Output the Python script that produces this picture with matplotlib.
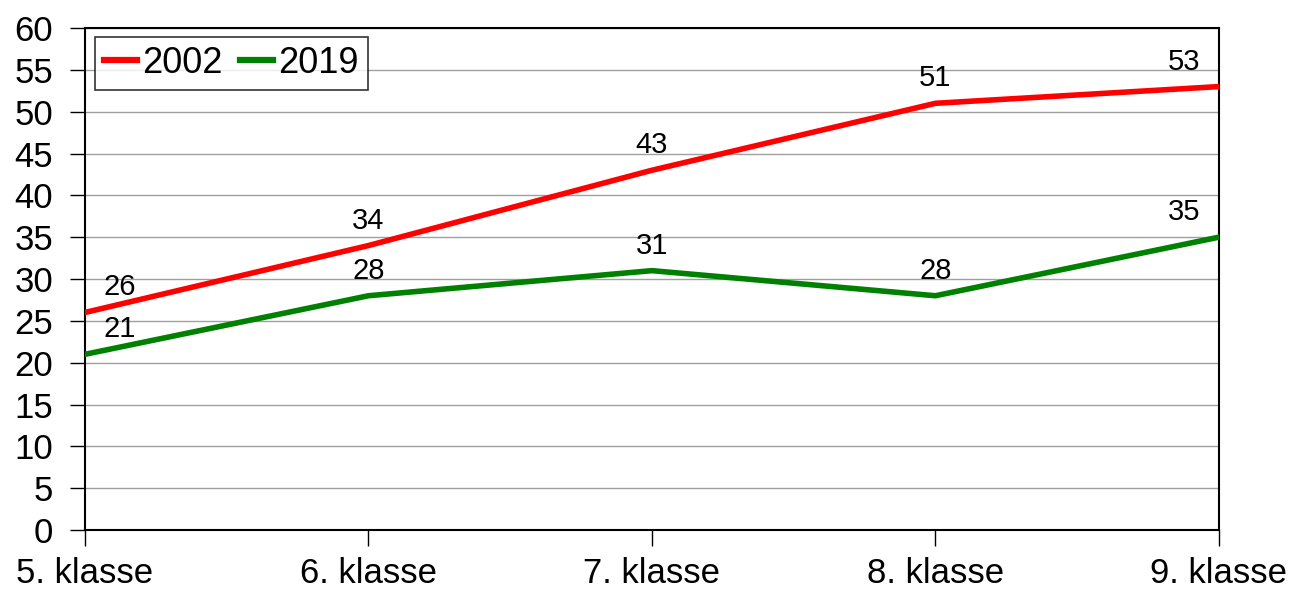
import matplotlib.pyplot as plt
import numpy as np

plt.rcParams['font.family'] = ['Liberation Sans', 'DejaVu Sans']

# data
klasser = ["5. klasse", "6. klasse", "7. klasse", "8. klasse", "9. klasse"]
v2002 = [26, 34, 43, 51, 53]
v2019 = [21, 28, 31, 28, 35]
y_ticks = list(range(0, 61, 5))

fig = plt.figure(figsize=(12.98, 5.91), dpi=100)
ax = fig.add_axes([0.0655, 0.1032, 0.8735, 0.8494])

x = np.arange(len(klasser))
ax.plot(x, v2002, color="#ff0000", lw=4, label="2002", zorder=3)
ax.plot(x, v2019, color="#008000", lw=4, label="2019", zorder=3)

# data labels
for serie in (v2002, v2019):
    for i, v in enumerate(serie):
        if i == 0:
            ha, dx = "left", 13
        elif i == len(serie) - 1:
            ha, dx = "right", -13
        else:
            ha, dx = "center", 0
        ax.annotate(str(v), (i, v), xytext=(dx, 18), textcoords="offset points",
                    ha=ha, va="center", fontsize=21)

ax.set_xlim(0, len(klasser) - 1)
ax.set_ylim(0, 60)
ax.set_yticks(y_ticks)
ax.set_xticks(x)
ax.set_xticklabels(klasser)
ax.tick_params(axis="y", labelsize=25, length=11, width=1, direction="out", pad=12)
ax.tick_params(axis="x", labelsize=25, length=11.5, width=1, direction="out", pad=8)
ax.grid(axis="y", color="#a0a0a0", lw=1)
ax.set_axisbelow(True)
for s in ax.spines.values():
    s.set_linewidth(1.5)
    s.set_color("black")

leg = ax.legend(loc="upper left", ncol=2, fontsize=26, frameon=True, fancybox=False,
                edgecolor="black", handlelength=0.9, handletextpad=0.15,
                columnspacing=0.5, borderpad=0.25, bbox_to_anchor=(0.0088, 0.982),
                borderaxespad=0)
leg.get_frame().set_linewidth(1.2)
for line in leg.get_lines():
    line.set_linewidth(4.5)

fig.savefig("out.png", dpi=100)
